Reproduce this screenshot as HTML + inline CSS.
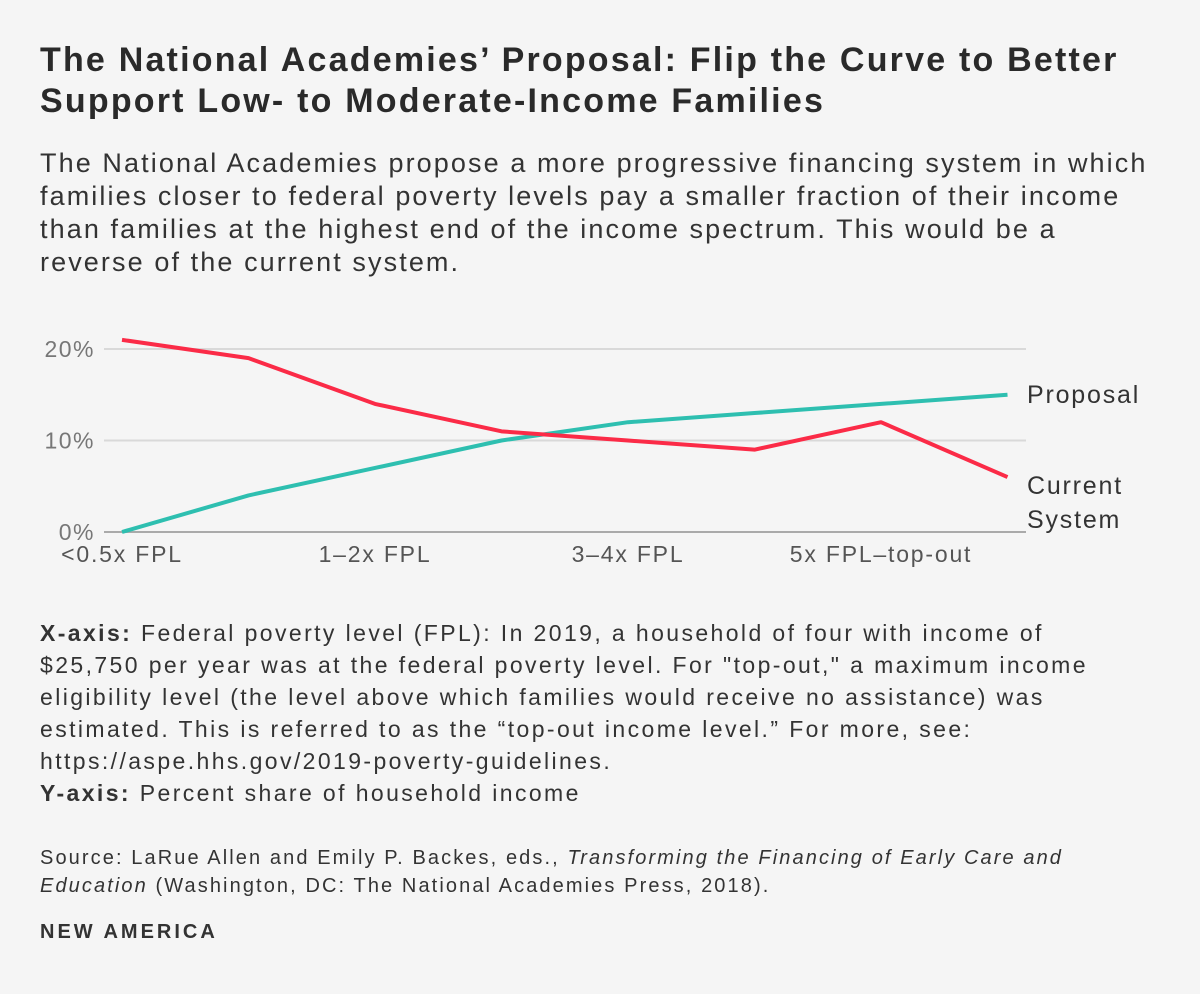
<!DOCTYPE html>
<html><head><meta charset="utf-8"><style>
body{margin:0;background:#f5f5f5;font-family:"Liberation Sans",sans-serif;color:#333}
#w{position:relative;width:1200px;height:994px;overflow:hidden}
h1{position:absolute;left:40px;top:40px;margin:0;font-size:34px;line-height:41px;font-weight:bold;color:#2a2a2a;white-space:nowrap;letter-spacing:2.2px}
.sub{position:absolute;left:40px;top:147px;font-size:27px;line-height:33px;white-space:nowrap;color:#333;letter-spacing:2.1px}
.notes{position:absolute;left:40px;top:617px;font-size:23px;line-height:32px;white-space:nowrap;color:#333;letter-spacing:2.4px}
.src{position:absolute;left:40px;top:844px;font-size:20px;line-height:28px;white-space:nowrap;color:#333;letter-spacing:2.1px}
.brand{position:absolute;left:40px;top:921px;font-size:20px;font-weight:bold;color:#333;letter-spacing:3px}
svg{position:absolute;left:0;top:0}
</style></head><body><div id="w">
<h1>The National Academies’ Proposal: Flip the Curve to Better<br>Support Low- to Moderate-Income Families</h1>
<div class="sub">The National Academies propose a more progressive financing system in which<br>families closer to federal poverty levels pay a smaller fraction of their income<br>than families at the highest end of the income spectrum. This would be a<br>reverse of the current system.</div>
<svg id="c" width="1200" height="600"></svg>
<div class="notes"><b>X-axis:</b> Federal poverty level (FPL): In 2019, a household of four with income of<br>$25,750 per year was at the federal poverty level. For "top-out," a maximum income<br>eligibility level (the level above which families would receive no assistance) was<br>estimated. This is referred to as the “top-out income level.” For more, see:<br>https://aspe.hhs.gov/2019-poverty-guidelines.<br><b>Y-axis:</b> Percent share of household income</div>
<div class="src">Source: LaRue Allen and Emily P. Backes, eds., <i>Transforming the Financing of Early Care and</i><br><i>Education</i> (Washington, DC: The National Academies Press, 2018).</div>
<div class="brand">NEW AMERICA</div>
</div>
<script>
const current=[21,19,14,11,10,9,12,6];
const proposal=[0,4,7,10,12,13,14,15];
const yTicks=[0,10,20];
const xLabels=["<0.5x FPL","1–2x FPL","3–4x FPL","5x FPL–top-out"];
const xLabelIdx=[0,2,4,6];
const NS="http://www.w3.org/2000/svg",svg=document.getElementById('c');
const x=i=>122+i*126.5, y=v=>532-v*9.15;
function mk(t,a){const e=document.createElementNS(NS,t);for(const k in a)e.setAttribute(k,a[k]);svg.appendChild(e);return e;}
yTicks.forEach(v=>{
 const l=mk('line',{x1:104,x2:1026,y1:y(v),y2:y(v),stroke:v?'#d9d9d9':'#aaa','stroke-width':2});
 
 
 const t=mk('text',{x:95,y:y(v)+8,'text-anchor':'end','font-size':23,fill:'#777','letter-spacing':1.5});t.textContent=v+'%';
 
 
});
xLabels.forEach((s,i)=>{
 const t=mk('text',{x:x(xLabelIdx[i]),y:562,'text-anchor':'middle','font-size':23,fill:'#555','letter-spacing':1.8});t.textContent=s;
 
 
});
function line(d,c,n){const p=mk('polyline',{points:d.map((v,i)=>x(i)+','+y(v)).join(' '),fill:'none',stroke:c,'stroke-width':4,'stroke-linejoin':'round'});
 
 }
line(proposal,'#2ebfb0','proposal-line');
line(current,'#fb2b47','current-system-line');
function lab(s,yy,n){const t=mk('text',{x:1027,y:yy,'font-size':25,fill:'#333','letter-spacing':1.8});t.textContent=s;
 
 }
lab('Proposal',y(proposal[7])+8,'proposal-label');
lab('Current',y(current[7])+17,'current-label');
lab('System',y(current[7])+51,'current-label-2');
</script></body></html>
